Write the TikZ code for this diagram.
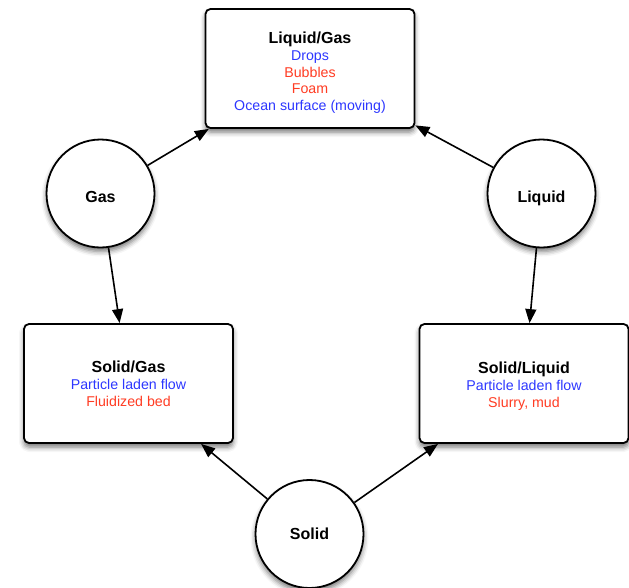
\documentclass[tikz,border=0pt]{standalone}
\usepackage{fontspec}
\setmainfont{Liberation Sans}
\usetikzlibrary{arrows.meta,shadows.blur}
\definecolor{tblue}{RGB}{45,55,255}
\definecolor{tred}{RGB}{255,60,35}
\newcommand{\ttl}[2][0pt]{\raisebox{0pt}[#1]{\fontsize{16}{17}\selectfont\bfseries #2}}
\tikzset{
  phase/.style={circle, draw=black, line width=1.8pt, fill=white, minimum size=108pt, inner sep=0pt,
    blur shadow={shadow xshift=0pt, shadow yshift=-4pt, shadow blur radius=5pt, shadow opacity=55},
    font=\fontsize{16}{17}\selectfont\bfseries, text height=11.5pt, text depth=0pt},
  lowlabel/.style={text height=18.5pt},
  mixbox/.style={rectangle, rounded corners=5pt, draw=black, line width=1.8pt, fill=white,
    minimum width=209pt, minimum height=119pt, align=center, inner sep=0pt,
    blur shadow={shadow xshift=0pt, shadow yshift=-4pt, shadow blur radius=5pt, shadow opacity=55},
    font=\fontsize{14.2}{16.8}\selectfont},
  conn/.style={line width=1.6pt, -{Triangle[length=14pt,width=11pt]}}
}
\begin{document}
\begin{tikzpicture}[x=1pt,y=-1pt]
\useasboundingbox (0,0) rectangle (629,587);
\node[mixbox] (lg) at (310,68.5) {\ttl[20pt]{Liquid/Gas}\\\textcolor{tblue}{Drops}\\\textcolor{tred}{Bubbles}\\\textcolor{tred}{Foam}\\\textcolor{tblue}{Ocean surface (moving)}};
\node[mixbox] (sg) at (128.5,383.5) {\ttl[12pt]{Solid/Gas}\\\textcolor{tblue}{Particle laden flow}\\\textcolor{tred}{Fluidized bed}};
\node[mixbox] (sl) at (524,383.5) {\ttl[17pt]{Solid/Liquid}\\\textcolor{tblue}{Particle laden flow}\\\textcolor{tred}{Slurry, mud}};
\node[phase, lowlabel] (gas) at (100.5,193.5) {Gas};
\node[phase, lowlabel] (liq) at (541.5,193.5) {Liquid};
\node[phase] (sol) at (309.5,534) {Solid};
\draw[conn] (gas) -- (lg);
\draw[conn] (liq) -- (lg);
\draw[conn] (gas) -- (sg);
\draw[conn] (liq) -- (sl);
\draw[conn] (sol) -- (sg);
\draw[conn] (sol) -- (sl);
\end{tikzpicture}
\end{document}
